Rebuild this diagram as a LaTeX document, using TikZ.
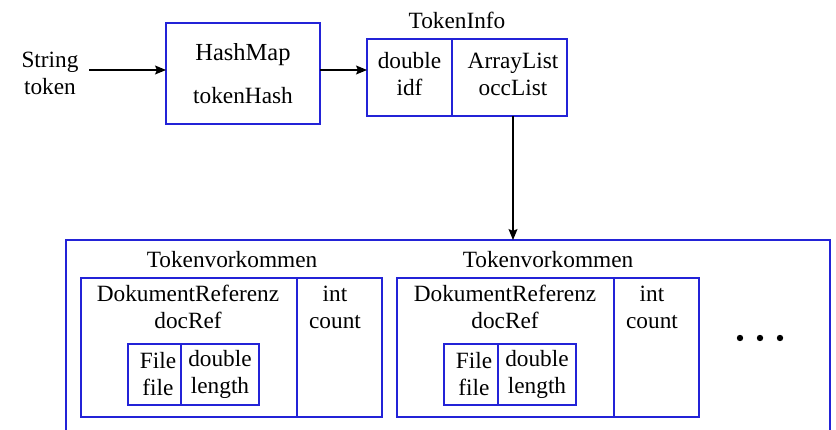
\documentclass[tikz,border=0pt]{standalone}
\usepackage{fontspec}
\setmainfont{Liberation Serif}
\usetikzlibrary{arrows.meta}
\definecolor{boxblue}{RGB}{35,35,215}
\tikzset{
  box/.style={draw=boxblue, line width=1.5pt, inner sep=0pt, outer sep=0pt, rectangle},
  txt/.style={inner sep=0pt, outer sep=0pt, align=center, font=\fontsize{23.3}{27}\selectfont},
  conn/.style={draw=black, line width=1.2pt, -{Stealth[length=11pt,width=9pt,inset=2pt]}},
  divider/.style={draw=boxblue, line width=1.5pt},
}
\begin{document}
\begin{tikzpicture}[x=1pt,y=-1pt]
\useasboundingbox (0,0) rectangle (836,430);
% String token
\node[txt] (st) at (50,73) {String\\token};
\coordinate (stend) at (89,70);
% HashMap
\node[box, minimum width=154pt, minimum height=101pt] (hm) at (243,73.5) {};
\node[txt, font=\fontsize{24.5}{28}\selectfont] (hmt) at (243,55) {HashMap};
\node[txt] (hmn) at (243,96) {tokenHash};
% TokenInfo
\node[txt] (til) at (457,20) {TokenInfo};
\node[box, minimum width=85pt, minimum height=77pt] (tid) at (409.5,77.5) {};
\node[box, minimum width=115pt, minimum height=77pt] (tio) at (509.5,77.5) {};
\node[txt] (tidt) at (409.5,74) {double\\idf};
\node[txt] (tiot) at (513,74) {ArrayList\\occList};
% arrows
\draw[conn] (stend) -- (hm.west |- stend);
\draw[conn] (hm.east |- stend) -- (tid.west |- stend);
% big container (open at bottom)
\coordinate (bigtop) at (513,240);
\draw[divider] (66,445) -- (66,240) -- (830,240) -- (830,445);
\draw[conn] (tio.south -| bigtop) -- (bigtop);
% Tokenvorkommen 1
\node[txt] (tv1) at (232,260) {Tokenvorkommen};
\node[box, minimum width=216pt, minimum height=139pt] (dr1) at (189,347.5) {};
\node[box, minimum width=85pt, minimum height=139pt] (ct1) at (339.5,347.5) {};
\node[txt] (dr1t) at (188,307) {DokumentReferenz\\docRef};
\node[txt] (ct1t) at (335,307) {int\\count};
\node[box, minimum width=53pt, minimum height=61pt] (fl1) at (154.5,374.5) {};
\node[box, minimum width=78pt, minimum height=61pt] (ln1) at (220,374.5) {};
\node[txt] (fl1t) at (158,374) {File\\file};
\node[txt] (ln1t) at (220,374) {double\\length};
% Tokenvorkommen 2
\node[txt] (tv2) at (548,260) {Tokenvorkommen};
\node[box, minimum width=217pt, minimum height=139pt] (dr2) at (505.5,347.5) {};
\node[box, minimum width=85pt, minimum height=139pt] (ct2) at (656.5,347.5) {};
\node[txt] (dr2t) at (505,307) {DokumentReferenz\\docRef};
\node[txt] (ct2t) at (652,307) {int\\count};
\node[box, minimum width=54pt, minimum height=61pt] (fl2) at (471,374.5) {};
\node[box, minimum width=78pt, minimum height=61pt] (ln2) at (537,374.5) {};
\node[txt] (fl2t) at (474,374) {File\\file};
\node[txt] (ln2t) at (537,374) {double\\length};
% dots
\fill (740,338) circle (3.2pt) (760,338) circle (3.2pt) (780,338) circle (3.2pt);
\end{tikzpicture}
\end{document}
